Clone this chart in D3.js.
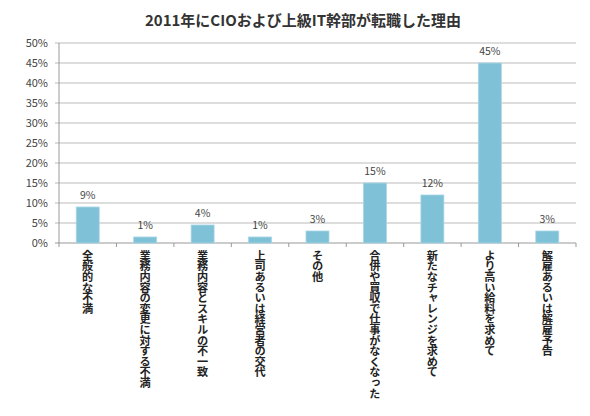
<!DOCTYPE html>
<html><head><meta charset="utf-8">
<script src="https://cdn.jsdelivr.net/npm/d3@7"></script>
<style>body{margin:0;background:#fff}</style>
</head><body><div id="chart"></div>
<script>
const categories = ["全般的な不満","業務内容の変更に対する不満","業務内容とスキルの不一致","上司あるいは経営者の交代","その他","合併や買収で仕事がなくなった","新たなチャレンジを求めて","より高い給料を求めて","解雇あるいは解雇予告"];
const values = [9, 1.5, 4.5, 1.5, 3, 15, 12, 45, 3];
const valueLabels = ["9%","1%","4%","1%","3%","15%","12%","45%","3%"];
const yTicks = [0,5,10,15,20,25,30,35,40,45,50];

const W = 590, H = 416;
const svg = d3.select("#chart").append("svg").attr("width",W).attr("height",H)
  .style("font-family","'Noto Sans CJK JP', sans-serif");

const x = d3.scaleBand().domain(categories).range([59,576]).paddingInner(0.6).paddingOuter(0.3);
const y = d3.scaleLinear().domain([0,50]).range([243,43]);

svg.append("text").attr("x",W/2+8).attr("y",26).attr("text-anchor","middle")
  .attr("font-size",15).attr("font-weight","bold").attr("fill","#333")
  .text("2011年にCIOおよび上級IT幹部が転職した理由");

svg.append("g").selectAll("line").data(yTicks).join("line")
  .attr("x1",55).attr("x2",576).attr("y1",d=>y(d)).attr("y2",d=>y(d))
  .attr("stroke",d=>d===0?"#999":"#bbb").attr("stroke-width",1);

svg.append("g").selectAll("text").data(yTicks).join("text")
  .attr("x",48).attr("y",d=>y(d)+4).attr("text-anchor","end")
  .attr("font-size",11).attr("fill","#444").text(d=>d+"%");

svg.append("line").attr("x1",59).attr("x2",59).attr("y1",43).attr("y2",247).attr("stroke","#999");

const step = x.step();
svg.append("g").selectAll("line").data(categories).join("line")
  .attr("x1",(d,i)=>59+step*(i+1)).attr("x2",(d,i)=>59+step*(i+1))
  .attr("y1",243).attr("y2",247).attr("stroke","#999");

svg.append("g").selectAll("rect").data(values).join("rect")
  .attr("x",(d,i)=>x(categories[i])).attr("width",x.bandwidth())
  .attr("y",d=>y(d)).attr("height",d=>y(0)-y(d))
  .attr("fill","#7fc1d6").attr("stroke","#a9d6e5").attr("stroke-width",0.8);

svg.append("g").selectAll("text").data(values).join("text")
  .attr("x",(d,i)=>x(categories[i])+x.bandwidth()/2).attr("y",d=>y(d)-8)
  .attr("text-anchor","middle").attr("font-size",10.5).attr("fill","#444")
  .text((d,i)=>valueLabels[i]);

svg.append("g").selectAll("text").data(categories).join("text")
  .attr("x",d=>x(d)+x.bandwidth()/2).attr("y",250)
  .style("writing-mode","vertical-rl").style("letter-spacing","-0.6px")
  .attr("font-size",11.2).attr("font-weight","bold")
  .attr("fill","#222").text(d=>d);
</script></body></html>
